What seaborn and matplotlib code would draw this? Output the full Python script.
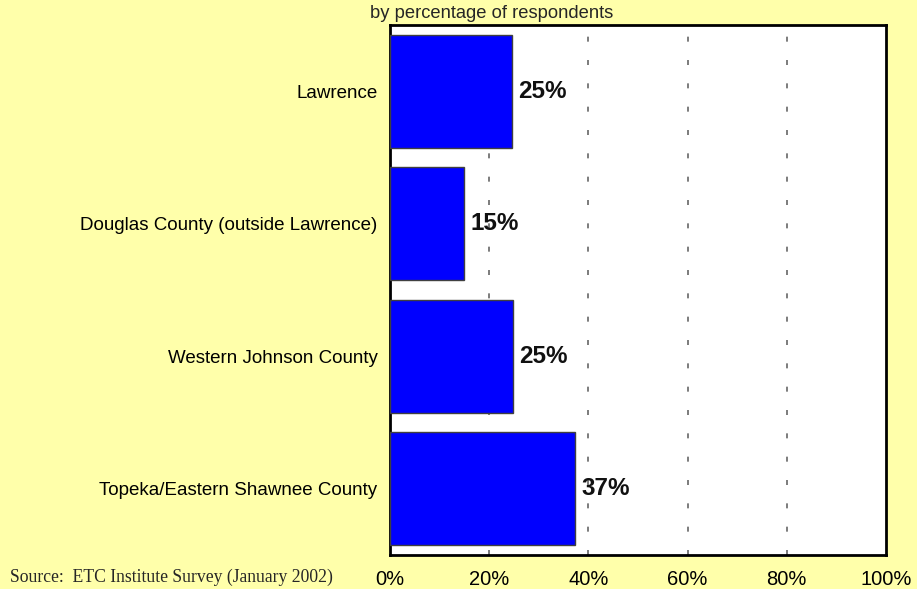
import matplotlib
matplotlib.use("Agg")
import matplotlib.pyplot as plt
import seaborn as sns
import pandas as pd

categories = ["Lawrence", "Douglas County (outside Lawrence)",
              "Western Johnson County", "Topeka/Eastern Shawnee County"]
values = [24.6, 14.9, 24.8, 37.3]
bar_labels = ["25%", "15%", "25%", "37%"]
xticks = [0, 20, 40, 60, 80, 100]
xtick_labels = ["0%", "20%", "40%", "60%", "80%", "100%"]

df = pd.DataFrame({"region": categories, "pct": values})

sns.set_style("white")
plt.rcParams["font.family"] = ["Liberation Sans", "DejaVu Sans"]

bg = "#FFFFAA"
fig = plt.figure(figsize=(9.17, 5.89), dpi=100, facecolor=bg)
ax = fig.add_axes([390/917, 34/589, 496/917, 530/589])
ax.set_facecolor("white")

sns.barplot(data=df, x="pct", y="region", orient="h", color="#0000FF",
            saturation=1, width=0.85, edgecolor="#404040", linewidth=1,
            ax=ax, zorder=3)

ax.set_xlim(0, 100)
ax.set_ylim(3.5, -0.5)
ax.set_xticks(xticks)
ax.set_xticklabels(xtick_labels, fontsize=14.5, color="black")
ax.tick_params(axis="x", length=0, pad=11)
ax.tick_params(axis="y", length=0, pad=9, labelsize=13.5, labelcolor="black")
ax.set_xlabel("")
ax.set_ylabel("")

for xv in xticks[1:-1]:
    ax.axvline(xv, color="#666666", linestyle=(0, (3, 11)), linewidth=1.2, zorder=1)

for spine in ax.spines.values():
    spine.set_visible(True)
    spine.set_color("black")
    spine.set_linewidth(2)

for i, (v, lab) in enumerate(zip(values, bar_labels)):
    ax.text(v + 1.3, i, lab, va="center", ha="left", fontsize=17.5,
            fontweight="bold", color="#111111", zorder=4)

fig.text(370/917, 1 - 13/589, "by percentage of respondents", fontsize=13.2,
         va="center", ha="left")
fig.text(10/917, 1 - 577/589, "Source:  ETC Institute Survey (January 2002)",
         fontsize=12.7, family="Liberation Serif", va="center", ha="left")

fig.savefig("out.png", dpi=100, facecolor=bg)
